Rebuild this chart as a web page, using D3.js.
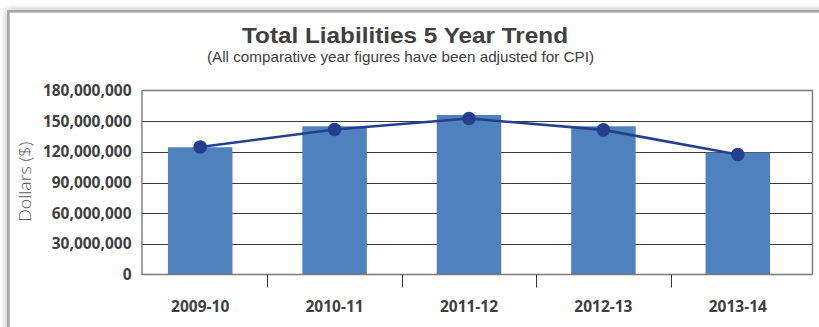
<!DOCTYPE html>
<html>
<head>
<meta charset="utf-8">
<script src="https://cdn.jsdelivr.net/npm/d3@7/dist/d3.min.js"></script>
<style>
  html, body { margin: 0; padding: 0; background: #fff; }
  svg { display: block; }
  text { font-family: "Open Sans", "Noto Sans", sans-serif; }
  text.heading { font-family: "Liberation Sans", Arial, sans-serif; }
</style>
</head>
<body>
<svg id="chart" width="819" height="327"></svg>
<script>
// Fiscal years and values (dollars)
const categories = ["2009-10", "2010-11", "2011-12", "2012-13", "2013-14"];
const barValues  = [124500000, 145000000, 156000000, 145000000, 119300000];
const lineValues = [124800000, 141800000, 152600000, 141500000, 117400000];
const yTicks     = [0, 30000000, 60000000, 90000000, 120000000, 150000000, 180000000];

const titleText    = "Total Liabilities 5 Year Trend";
const subtitleText = "(All comparative year figures have been adjusted for CPI)";
const yAxisTitle   = "Dollars ($)";

const svg = d3.select("#chart");
const textColor = "#404040";

// Panel with a soft shadow, running off the right and bottom edges
const defs = svg.append("defs");
const shadow = defs.append("filter").attr("id", "panelShadow")
  .attr("x", "-5%").attr("y", "-20%").attr("width", "110%").attr("height", "140%");
shadow.append("feGaussianBlur").attr("in", "SourceAlpha").attr("stdDeviation", 3.5).attr("result", "b");
shadow.append("feComponentTransfer").attr("in", "b").attr("result", "s")
  .append("feFuncA").attr("type", "linear").attr("slope", 0.35);
const merge = shadow.append("feMerge");
merge.append("feMergeNode").attr("in", "s");
merge.append("feMergeNode").attr("in", "SourceGraphic");

svg.append("rect")
  .attr("x", 8.3).attr("y", 11.3).attr("width", 840).attr("height", 340)
  .attr("fill", "#fff").attr("stroke", "#a6a6a6").attr("stroke-width", 2.7)
  .attr("filter", "url(#panelShadow)");

// Plot area
const plot = { left: 141.5, right: 812.5, top: 90.5, bottom: 274.5 };

const y = d3.scaleLinear().domain([0, 180000000]).range([plot.bottom, plot.top]);
const x = d3.scaleBand().domain(categories).range([133, 805]).padding(0);
const barW = x.bandwidth() * 0.48;
const cx = c => x(c) + x.bandwidth() / 2;

// Horizontal gridlines
svg.append("g").selectAll("line")
  .data(yTicks.filter(t => t > 0 && t < 180000000))
  .join("line")
  .attr("x1", plot.left).attr("x2", plot.right)
  .attr("y1", d => Math.round(y(d)) + 0.5).attr("y2", d => Math.round(y(d)) + 0.5)
  .attr("stroke", "#3a3a3a").attr("stroke-width", 1);

// Plot frame: top and right edges
svg.append("path")
  .attr("d", `M${plot.left},${plot.top}H${plot.right}V${plot.bottom}`)
  .attr("fill", "none").attr("stroke", "#7a7a7a").attr("stroke-width", 1.4);

// Bars
svg.append("g").selectAll("rect")
  .data(categories.map((c, i) => ({ c, v: barValues[i] })))
  .join("rect")
  .attr("x", d => cx(d.c) - barW / 2)
  .attr("width", barW)
  .attr("y", d => y(d.v))
  .attr("height", d => y(0) - y(d.v))
  .attr("fill", "#4f81bd");

// Axes: left and bottom lines
const yAxis = d3.axisLeft(y).tickValues(yTicks).tickSize(0).tickPadding(10)
  .tickFormat(d3.format(","));
const gy = svg.append("g").attr("transform", `translate(${plot.left},0)`).call(yAxis);
gy.select(".domain").attr("stroke", "#7a7a7a").attr("stroke-width", 1.4);
gy.selectAll("text")
  .attr("font-size", 15.5).attr("font-weight", 700).attr("fill", textColor)
  .attr("x", -10);

const gx = svg.append("g").attr("transform", `translate(0,${plot.bottom})`);
gx.append("line").attr("x1", plot.left).attr("x2", plot.right)
  .attr("stroke", "#7a7a7a").attr("stroke-width", 1.6);
// Tick marks between categories
gx.selectAll("line.tick")
  .data(categories.slice(1))
  .join("line").attr("class", "tick")
  .attr("x1", d => Math.round(x(d)) + 0.5).attr("x2", d => Math.round(x(d)) + 0.5)
  .attr("y1", 0).attr("y2", 13)
  .attr("stroke", "#333").attr("stroke-width", 1);
gx.selectAll("text")
  .data(categories)
  .join("text")
  .attr("x", d => cx(d)).attr("y", 37.2)
  .attr("text-anchor", "middle")
  .attr("font-size", 15.5).attr("font-weight", 700).attr("fill", textColor)
  .text(d => d);

// Trend line with markers
const line = d3.line().x((d, i) => cx(categories[i])).y(d => y(d));
svg.append("path")
  .datum(lineValues)
  .attr("d", line)
  .attr("fill", "none").attr("stroke", "#253f8f").attr("stroke-width", 2.6);
svg.append("g").selectAll("circle")
  .data(lineValues)
  .join("circle")
  .attr("cx", (d, i) => cx(categories[i]))
  .attr("cy", d => y(d))
  .attr("r", 6.8)
  .attr("fill", "#253f8f");

// Titles
svg.append("text").attr("class", "heading")
  .attr("x", 405).attr("y", 43.3).attr("text-anchor", "middle")
  .attr("font-size", 22).attr("font-weight", 700).attr("fill", textColor)
  .attr("textLength", 326).attr("lengthAdjust", "spacingAndGlyphs")
  .text(titleText);
svg.append("text").attr("class", "heading")
  .attr("x", 400.5).attr("y", 61.7).attr("text-anchor", "middle")
  .attr("font-size", 14.5).attr("font-weight", 400).attr("fill", textColor)
  .attr("textLength", 387).attr("lengthAdjust", "spacingAndGlyphs")
  .text(subtitleText);

// Y axis title
svg.append("text")
  .attr("transform", "translate(31,181.7) rotate(-90)")
  .attr("text-anchor", "middle")
  .attr("font-size", 16.5).attr("font-weight", 300).attr("fill", "#595959")
  .attr("textLength", 80).attr("lengthAdjust", "spacingAndGlyphs")
  .text(yAxisTitle);
</script>
</body>
</html>
